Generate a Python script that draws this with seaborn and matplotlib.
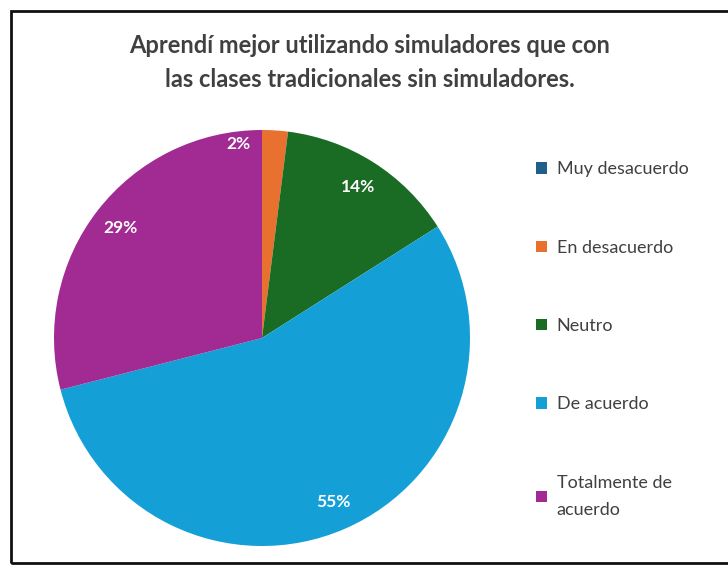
import matplotlib.pyplot as plt
import matplotlib.patches as mpatches
import numpy as np
import seaborn as sns

# datos de la encuesta
categorias = ["Muy desacuerdo", "En desacuerdo", "Neutro", "De acuerdo", "Totalmente de\nacuerdo"]
porcentajes = [0, 2, 14, 55, 29]
colores = ["#1F5F8A", "#E9712F", "#1A6B24", "#14A0D6", "#A22B93"]
titulo = "Aprendí mejor utilizando simuladores que con\nlas clases tradicionales sin simuladores."

sns.set_theme(style="white")
plt.rcParams["font.family"] = ["Lato", "DejaVu Sans"]
paleta = sns.color_palette(colores)

fig = plt.figure(figsize=(7.28, 5.65), dpi=100)
ax = fig.add_axes([54 / 728, 19 / 565, 416 / 728, 416 / 565])

wedges, textos, autotextos = ax.pie(
    porcentajes, colors=paleta, startangle=90, counterclock=False,
    autopct=lambda p: f"{p:.0f}%" if p > 0 else "", pctdistance=0.86,
    wedgeprops={"linewidth": 0},
    textprops={"color": "white", "fontsize": 12.5, "fontweight": "bold"},
)
ax.set_xlim(-1, 1)
ax.set_ylim(-1, 1)
ax.set_aspect("equal")

# la etiqueta del 2% se desplaza a la izquierda de su porción
ang = np.deg2rad(97)
autotextos[1].set_position((0.94 * np.cos(ang), 0.94 * np.sin(ang)))

fig.text(0.508, 0.889, titulo, ha="center", va="center", fontsize=17,
         fontweight="bold", color="#404040", linespacing=1.6)

leg = fig.legend(wedges, categorias, loc="upper left", bbox_to_anchor=(0.714, 0.743),
                 frameon=False, fontsize=13, labelspacing=3.45, handlelength=0.6,
                 handleheight=0.6, handletextpad=0.55, labelcolor="#404040")
for t in leg.get_texts():
    t.set_linespacing(1.9)

# marco exterior
fig.patches.append(mpatches.Rectangle((11 / 728, 2 / 565), 1.2, 552 / 565,
                                      transform=fig.transFigure, fill=False,
                                      edgecolor="#111111", linewidth=2))

fig.savefig("out.png", dpi=100)
